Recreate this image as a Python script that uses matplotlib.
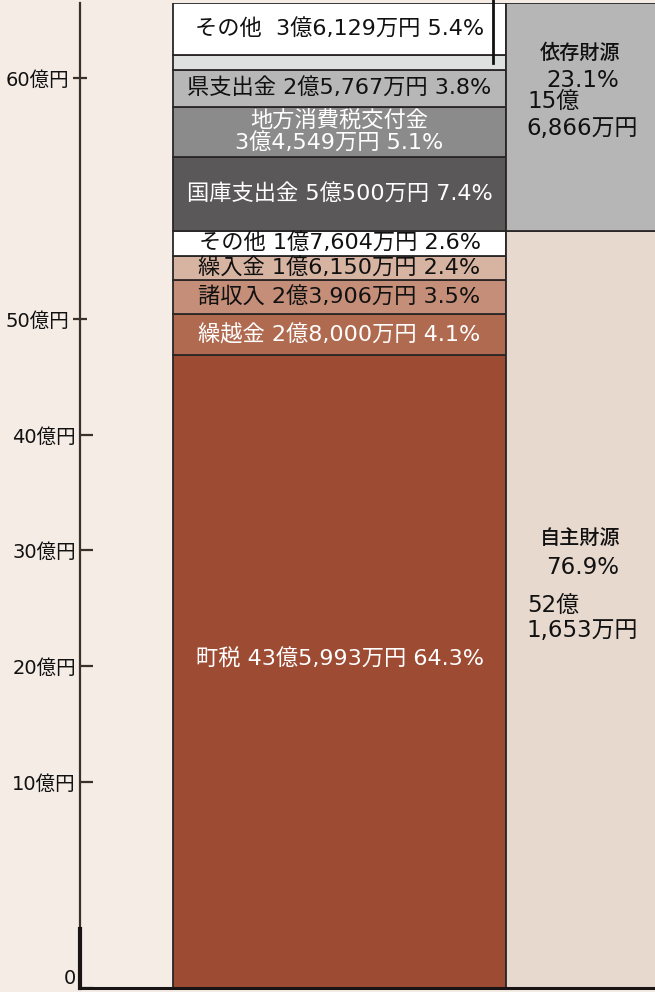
import matplotlib
matplotlib.use('Agg')
import matplotlib.pyplot as plt

plt.rcParams['font.family'] = ['DejaVu Sans', 'Noto Sans CJK JP']

# ---------------- data (units: 億円) ----------------
own_items = ['町税', '繰越金', '諸収入', '繰入金', 'その他']
own_values = [43.5993, 2.8000, 2.3906, 1.6150, 1.7604]
own_amounts = ['43億5,993万円', '2億8,000万円', '2億3,906万円', '1億6,150万円', '1億7,604万円']
own_pcts = ['64.3%', '4.1%', '3.5%', '2.4%', '2.6%']

dep_items = ['国庫支出金', '地方消費税交付金', '県支出金', '', 'その他']
dep_values = [5.0500, 3.4549, 2.5767, 0.9921, 3.6129]
dep_amounts = ['5億500万円', '3億4,549万円', '2億5,767万円', '', '3億6,129万円']
dep_pcts = ['7.4%', '5.1%', '3.8%', '', '5.4%']

group_names = ['自主財源', '依存財源']
group_values = [52.1653, 15.6866]
group_oku = ['52億', '15億']
group_man = ['1,653万円', '6,866万円']
group_pcts = ['76.9%', '23.1%']

axis_labels = ['0', '10億円', '20億円', '30億円', '40億円', '50億円', '60億円']

# ---------------- styles ----------------
own_colors = ['#9d4b33', '#b06a50', '#c48e78', '#d7b3a1', '#ffffff']
own_text = ['white', 'white', '#111111', '#111111', '#111111']
dep_colors = ['#5a5858', '#8b8b8b', '#b7b7b7', '#dfe1e0', '#ffffff']
dep_text = ['white', 'white', '#111111', '#111111', '#111111']
group_colors = ['#e8d9cf', '#b6b6b6']
bg = '#f5ece6'
edge = '#2a2626'

# decorative (non-linear) axis: where each label sits, in bar units
axis_tick_pos = [0, 14.19, 22.18, 30.17, 38.09, 46.07, 62.67]

items = own_items + dep_items
values = own_values + dep_values
amounts = own_amounts + dep_amounts
pcts = own_pcts + dep_pcts
colors = own_colors + dep_colors
tcolors = own_text + dep_text
total = sum(group_values)

fig = plt.figure(figsize=(6.55, 9.92), dpi=100, facecolor=bg)
ax = fig.add_axes([80 / 655, 4 / 992, 575 / 655, 985 / 992])
ax.set_facecolor(bg)
ax.set_xlim(-0.2793, 1.4474)
ax.set_ylim(0, total)

# left stacked bar (items)
bottom = 0.0
for i, (name, v, amt, pc, c, tc) in enumerate(zip(items, values, amounts, pcts, colors, tcolors)):
    ax.bar(0, v, width=1, bottom=bottom, align='edge', color=c,
           edgecolor=edge, linewidth=1.3, zorder=2)
    if name:
        if name == '地方消費税交付金':
            label = f'{name}\n{amt} {pc}'
        elif name == 'その他' and bottom > group_values[0]:
            label = f'{name}  {amt} {pc}'
        else:
            label = f'{name} {amt} {pc}'
        dy = 12 if i == 0 else 0
        ax.annotate(label, (0.5, bottom + v / 2), xytext=(0, dy),
                    textcoords='offset pixels', ha='center', va='center',
                    color=tc, fontsize=16, linespacing=1.05, zorder=3)
    bottom += v

# leader line from the small unlabeled segment upward
gray_mid = sum(values[:-1]) - values[-2] / 2
ax.plot([0.961, 0.961], [gray_mid, total + 0.4], color='#111111', lw=2,
        clip_on=False, zorder=4)

# right column (groups)
gb = 0.0
offsets = [(-71, -42, -4, 21), (-64, -36, -15, 12)]
for gname, gv, gc, oku, man, gp, off in zip(group_names, group_values, group_colors,
                                            group_oku, group_man, group_pcts, offsets):
    ax.bar(1, gv, width=0.6, bottom=gb, align='edge', color=gc,
           edgecolor=edge, linewidth=1.3, zorder=2)
    mid = gb + gv / 2
    ax.annotate(gname, (1.222, mid), xytext=(0, -off[0]), textcoords='offset pixels',
                ha='center', va='center', fontsize=14.5, color='#111111',
                fontweight='medium', zorder=3)
    ax.annotate(gp, (1.23, mid), xytext=(0, -off[1]), textcoords='offset pixels',
                ha='center', va='center', fontsize=16.5, color='#111111', zorder=3)
    ax.annotate(oku, (1.063, mid), xytext=(0, -off[2]), textcoords='offset pixels',
                ha='left', va='center', fontsize=16.5, color='#111111', zorder=3)
    ax.annotate(man, (1.060, mid), xytext=(0, -off[3]), textcoords='offset pixels',
                ha='left', va='center', fontsize=16.5, color='#111111', zorder=3)
    gb += gv

# axes styling
for s in ['top', 'right']:
    ax.spines[s].set_visible(False)
ax.spines['left'].set_color('#3a302c')
ax.spines['left'].set_linewidth(1.6)
ax.spines['bottom'].set_color('#1a1414')
ax.spines['bottom'].set_linewidth(2.2)
ax.spines['left'].set_zorder(5)
ax.spines['bottom'].set_zorder(5)
ax.plot([0, 0], [0, 0.06], transform=ax.transAxes, color='#1a1414', lw=3,
        clip_on=False, zorder=6)

ax.set_xticks([])
ax.set_yticks(axis_tick_pos[5:], labels=axis_labels[5:])
ax.set_yticks(axis_tick_pos[:5], labels=axis_labels[:5], minor=True)
ax.tick_params(axis='y', which='major', direction='inout', length=10, width=1.6,
               color='#3a302c', pad=3.0, labelsize=14, labelcolor='#111111')
ax.tick_params(axis='y', which='minor', direction='in', length=9, width=1.6,
               color='#3a302c', pad=3.0, labelsize=14, labelcolor='#111111')
zero_label = ax.yaxis.get_minorticklabels()[0]
zero_label.set_verticalalignment('bottom')

fig.savefig('out.png', dpi=100, facecolor=bg)
